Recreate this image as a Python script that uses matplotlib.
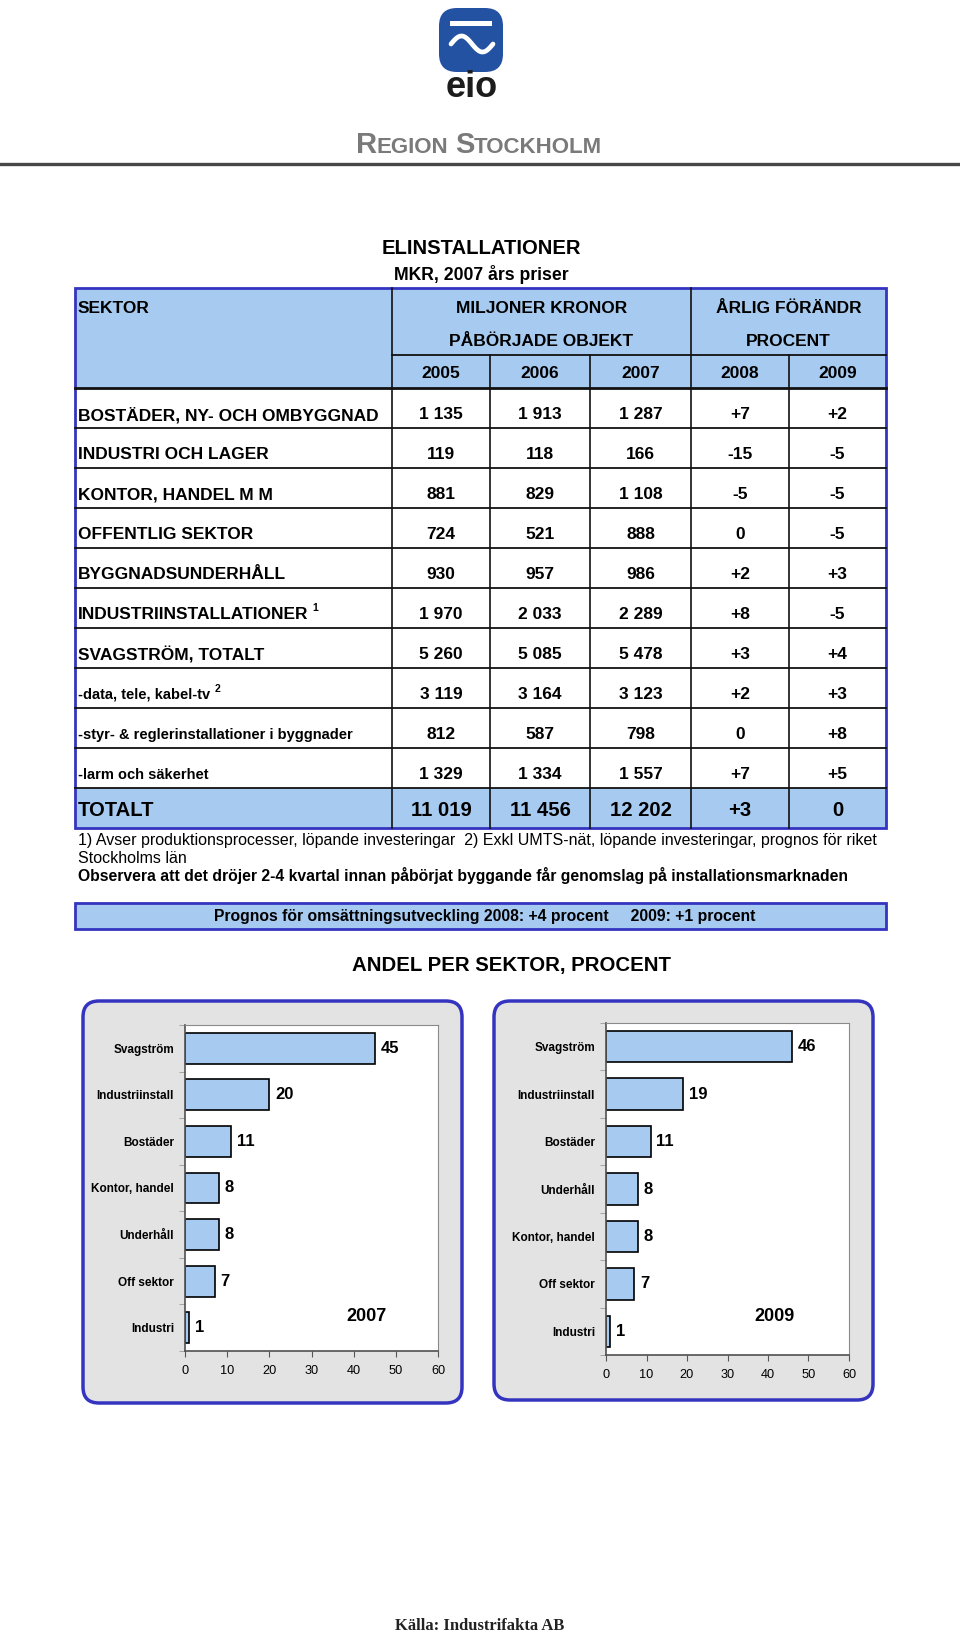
import matplotlib
matplotlib.use("Agg")
import matplotlib.pyplot as plt
import numpy as np
from matplotlib.patches import FancyBboxPatch, Rectangle

plt.rcParams['font.family'] = ['Liberation Sans', 'DejaVu Sans']

# ---- table data ----
sectors = ["BOSTÄDER, NY- OCH OMBYGGNAD", "INDUSTRI OCH LAGER", "KONTOR, HANDEL M M",
           "OFFENTLIG SEKTOR", "BYGGNADSUNDERHÅLL", "INDUSTRIINSTALLATIONER",
           "SVAGSTRÖM, TOTALT", "-data, tele, kabel-tv",
           "-styr- & reglerinstallationer i byggnader", "-larm och säkerhet"]
footmarks = ["", "", "", "", "", "1", "", "2", "", ""]
mkr_2005 = [1135, 119, 881, 724, 930, 1970, 5260, 3119, 812, 1329]
mkr_2006 = [1913, 118, 829, 521, 957, 2033, 5085, 3164, 587, 1334]
mkr_2007 = [1287, 166, 1108, 888, 986, 2289, 5478, 3123, 798, 1557]
chg_2008 = [7, -15, -5, 0, 2, 8, 3, 2, 0, 7]
chg_2009 = [2, -5, -5, -5, 3, -5, 4, 3, 8, 5]
total_mkr = [11019, 11456, 12202]
total_chg = [3, 0]
years = ["2005", "2006", "2007", "2008", "2009"]

# ---- bar chart data ----
cat_2007 = ["Svagström", "Industriinstall", "Bostäder", "Kontor, handel",
            "Underhåll", "Off sektor", "Industri"]
share_2007 = [45, 20, 11, 8, 8, 7, 1]
cat_2009 = ["Svagström", "Industriinstall", "Bostäder", "Underhåll",
            "Kontor, handel", "Off sektor", "Industri"]
share_2009 = [46, 19, 11, 8, 8, 7, 1]

LIGHT = '#A6CAF0'
BLUE = '#3434C0'
W, H = 960, 1634


def fmt_mkr(v):
    return f"{v:,}".replace(",", " ")


def fmt_chg(v):
    return "0" if v == 0 else f"{v:+d}"


fig = plt.figure(figsize=(W / 100, H / 100), dpi=100)
page = fig.add_axes([0, 0, 1, 1])
page.set_xlim(0, W)
page.set_ylim(H, 0)
page.axis('off')

# logo
page.add_patch(FancyBboxPatch((439, 8), 64, 64, boxstyle="round,pad=0,rounding_size=18",
                              fc='#2352A3', ec='none'))
page.add_patch(Rectangle((450, 21), 42, 5, fc='white', ec='none'))
wx = np.linspace(451, 493, 80)
page.plot(wx, 44 - 8 * np.sin((wx - 451) / 42 * 2 * np.pi), color='white', lw=3.4,
          solid_capstyle='round')
page.text(472, 97, "eio", fontsize=26, fontweight='bold', ha='center', va='baseline',
          color='#1c1c1c')

# REGION STOCKHOLM in small caps
pieces = [("R", 21), ("EGION", 16), (" ", 16), ("S", 21), ("TOCKHOLM", 16)]
renderer = fig.canvas.get_renderer()
x = 0
txts = []
for s, fs in pieces:
    if s == " ":
        x += fs * 0.278 * 1.389
        continue
    t = page.text(x, 153, s, fontsize=fs, fontweight='bold', color='#7a7a7a',
                  ha='left', va='baseline')
    x += t.get_window_extent(renderer).width
    txts.append(t)
shift = 479 - x / 2
for t in txts:
    t.set_x(t.get_position()[0] + shift)
page.plot([0, W], [164, 164], color='#474747', lw=2.4)

# titles
page.text(481, 248, "ELINSTALLATIONER", fontsize=14.6, fontweight='bold', ha='center', va='center')
page.text(481, 274, "MKR, 2007 års priser", fontsize=12.7, fontweight='bold', ha='center', va='center')

# ---- table ----
tx0, tx1 = 75, 886
cols = [392, 490, 590, 691, 789, 886]
centers = [(cols[i] + cols[i + 1]) / 2 for i in range(5)]
top, mid, hdr_bot = 288, 355, 388
row_h = 40
tot_top = hdr_bot + len(sectors) * row_h
tbl_bot = 828

page.add_patch(Rectangle((tx0, top), tx1 - tx0, hdr_bot - top, fc=LIGHT, ec='none'))
page.add_patch(Rectangle((tx0, tot_top), tx1 - tx0, tbl_bot - tot_top, fc=LIGHT, ec='none'))

page.text(78, 308, "SEKTOR", fontsize=12.5, fontweight='bold', va='center')
page.text((cols[0] + cols[3]) / 2, 308, "MILJONER KRONOR", fontsize=12.5, fontweight='bold',
          ha='center', va='center')
page.text((cols[0] + cols[3]) / 2, 341, "PÅBÖRJADE OBJEKT", fontsize=12.5, fontweight='bold',
          ha='center', va='center')
page.text((cols[3] + cols[5]) / 2, 308, "ÅRLIG FÖRÄNDR", fontsize=12.5, fontweight='bold',
          ha='center', va='center')
page.text((cols[3] + cols[5]) / 2, 341, "PROCENT", fontsize=12.5, fontweight='bold',
          ha='center', va='center')
for c, yr in zip(centers, years):
    page.text(c, 373, yr, fontsize=12.5, fontweight='bold', ha='center', va='center')

for i, name in enumerate(sectors):
    y = hdr_bot + i * row_h + 0.67 * row_h
    fs = 10.5 if name.startswith("-") else 12.5
    lab = page.text(78, y, name, fontsize=fs, fontweight='bold', va='center')
    if footmarks[i]:
        page.annotate(footmarks[i], xy=(1, 1), xycoords=lab, xytext=(3, 3),
                      textcoords='offset points', fontsize=7.5, fontweight='bold', va='top')
    vals = [fmt_mkr(mkr_2005[i]), fmt_mkr(mkr_2006[i]), fmt_mkr(mkr_2007[i]),
            fmt_chg(chg_2008[i]), fmt_chg(chg_2009[i])]
    for c, v in zip(centers, vals):
        page.text(c, y, v, fontsize=12.5, fontweight='bold', ha='center', va='center')

ty = tot_top + 0.57 * (tbl_bot - tot_top)
page.text(78, ty, "TOTALT", fontsize=14.6, fontweight='bold', va='center')
for c, v in zip(centers, [fmt_mkr(v) for v in total_mkr] + [fmt_chg(v) for v in total_chg]):
    page.text(c, ty, v, fontsize=14.6, fontweight='bold', ha='center', va='center')

# grid lines
for j in range(len(sectors) + 1):
    y = hdr_bot + j * row_h
    page.plot([tx0, tx1], [y, y], color='#111', lw=2.0 if j == 0 else 1.3)
page.plot([cols[0], tx1], [mid, mid], color='#111', lw=1.3)
for xc in [cols[0], cols[3]]:
    page.plot([xc, xc], [top, tbl_bot], color='#111', lw=1.2)
for xc in [cols[1], cols[2], cols[4]]:
    page.plot([xc, xc], [mid, tbl_bot], color='#111', lw=1.2)
page.add_patch(Rectangle((tx0, top), tx1 - tx0, tbl_bot - top, fc='none', ec=BLUE, lw=2.0))

# notes
page.text(78, 845, "1) Avser produktionsprocesser, löpande investeringar  2) Exkl UMTS-nät, "
          "löpande investeringar, prognos för riket", fontsize=11.5, va='baseline')
page.text(78, 863, "Stockholms län", fontsize=11.5, va='baseline')
page.text(78, 881, "Observera att det dröjer 2-4 kvartal innan påbörjat byggande får genomslag "
          "på installationsmarknaden", fontsize=11.3, fontweight='bold', va='baseline')

page.add_patch(Rectangle((tx0, 903), tx1 - tx0, 26, fc=LIGHT, ec=BLUE, lw=2.0))
page.text(485, 916, "Prognos för omsättningsutveckling 2008: +4 procent     2009: +1 procent",
          fontsize=11.3, fontweight='bold', ha='center', va='center')

page.text(511, 965, "ANDEL PER SEKTOR, PROCENT", fontsize=14.7, fontweight='bold',
          ha='center', va='center')

# chart frames
for bx, by, bw, bh in [(83, 1001, 379, 402), (494, 1001, 379, 399)]:
    page.add_patch(FancyBboxPatch((bx, by), bw, bh, boxstyle="round,pad=0,rounding_size=16",
                                  fc='#E3E3E3', ec=BLUE, lw=2.5))

page.text(480, 1626, "Källa: Industrifakta AB", family=['Liberation Serif', 'DejaVu Serif'],
          fontsize=12, fontweight='bold', ha='center', va='center', color='#222')


def draw_bars(rect, cats, vals, year, year_x, year_y):
    l, t, r, b = rect
    ax = fig.add_axes([l / W, 1 - b / H, (r - l) / W, (b - t) / H])
    pos = np.arange(len(cats))
    ax.barh(pos, vals, height=0.66, color=LIGHT, edgecolor='black', linewidth=1.2)
    ax.set_xlim(0, 60)
    ax.set_ylim(len(cats) - 0.5, -0.5)
    ax.set_yticks(pos)
    ax.set_yticklabels(cats, fontsize=8.5, fontweight='bold')
    ax.set_yticks(np.arange(len(cats) + 1) - 0.5, minor=True)
    ax.tick_params(axis='y', which='major', length=0, pad=8)
    ax.tick_params(axis='y', which='minor', length=4, color='#999')
    ax.set_xticks(range(0, 61, 10))
    ax.tick_params(axis='x', length=4, labelsize=9.2, pad=6, color='#555')
    for sp in ['top', 'right']:
        ax.spines[sp].set_color('#8a8a8a')
    for sp in ['left', 'bottom']:
        ax.spines[sp].set_color('#505050')
        ax.spines[sp].set_linewidth(1.2)
    for p, v in zip(pos, vals):
        ax.annotate(str(v), (v, p), xytext=(4, 0), textcoords='offset points',
                    va='center', fontsize=12, fontweight='bold')
    ax.text(year_x, year_y, year, fontsize=13, fontweight='bold', ha='center', va='center')
    return ax


draw_bars((185, 1025, 438, 1351), cat_2007, share_2007, "2007", 43, 5.76)
draw_bars((606, 1023, 849, 1355), cat_2009, share_2009, "2009", 41.7, 5.68)

fig.savefig("out.png", dpi=100)
